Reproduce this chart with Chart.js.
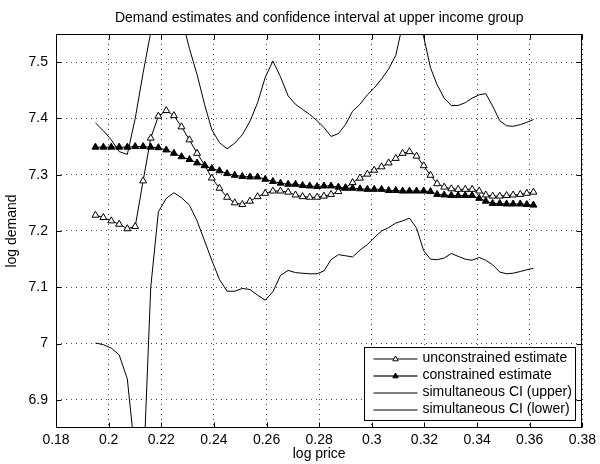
<!DOCTYPE html>
<html><head><meta charset="utf-8">
<script src="https://cdn.jsdelivr.net/npm/chart.js@4.4.1/dist/chart.umd.min.js"></script>
<style>html,body{margin:0;padding:0;background:#fff}</style>
</head><body>
<canvas id="c" width="600" height="464"></canvas>
<script>
const logPrice = [0.1950,0.1980,0.2010,0.2040,0.2071,0.2101,0.2131,0.2160,0.2189,0.2219,0.2248,0.2277,0.2307,0.2336,0.2365,0.2392,0.2421,0.2450,0.2479,0.2508,0.2537,0.2566,0.2595,0.2624,0.2653,0.2682,0.2710,0.2737,0.2764,0.2792,0.2818,0.2845,0.2873,0.2900,0.2927,0.2955,0.2983,0.3009,0.3037,0.3064,0.3091,0.3117,0.3143,0.3170,0.3197,0.3223,0.3248,0.3275,0.3302,0.3328,0.3355,0.3381,0.3408,0.3433,0.3459,0.3486,0.3512,0.3537,0.3564,0.3589,0.3614];
const unconstrained = [7.228,7.224,7.218,7.212,7.204,7.208,7.289,7.365,7.404,7.414,7.405,7.385,7.362,7.338,7.317,7.294,7.276,7.260,7.250,7.247,7.253,7.261,7.267,7.271,7.271,7.269,7.264,7.261,7.260,7.260,7.262,7.265,7.270,7.277,7.286,7.294,7.301,7.308,7.314,7.321,7.329,7.338,7.341,7.333,7.316,7.299,7.284,7.278,7.275,7.274,7.274,7.274,7.271,7.264,7.262,7.262,7.263,7.264,7.265,7.267,7.269];
const constrained = [7.349,7.349,7.349,7.349,7.349,7.350,7.350,7.349,7.348,7.344,7.338,7.332,7.327,7.321,7.316,7.311,7.307,7.302,7.299,7.297,7.296,7.296,7.292,7.288,7.285,7.283,7.283,7.281,7.280,7.279,7.280,7.280,7.278,7.276,7.276,7.275,7.274,7.274,7.274,7.272,7.272,7.271,7.271,7.271,7.271,7.270,7.265,7.264,7.263,7.263,7.263,7.263,7.258,7.253,7.249,7.249,7.248,7.248,7.248,7.247,7.246];
const ciUpper = [7.392,7.378,7.362,7.341,7.336,7.400,7.481,7.553,7.620,7.660,7.650,7.580,7.524,7.478,7.424,7.380,7.357,7.346,7.356,7.371,7.395,7.428,7.473,7.502,7.474,7.440,7.425,7.416,7.407,7.396,7.384,7.368,7.373,7.389,7.413,7.425,7.442,7.454,7.470,7.488,7.512,7.567,7.600,7.600,7.545,7.490,7.460,7.436,7.423,7.423,7.428,7.436,7.442,7.444,7.422,7.396,7.387,7.386,7.389,7.393,7.398];
const ciLower = [7.001,6.998,6.992,6.980,6.937,6.801,6.760,7.100,7.234,7.258,7.268,7.259,7.246,7.218,7.182,7.148,7.114,7.093,7.093,7.098,7.096,7.086,7.077,7.092,7.121,7.130,7.126,7.125,7.124,7.124,7.129,7.149,7.158,7.156,7.154,7.166,7.176,7.188,7.200,7.206,7.214,7.218,7.223,7.205,7.165,7.150,7.149,7.152,7.160,7.155,7.150,7.148,7.153,7.148,7.140,7.127,7.124,7.125,7.128,7.131,7.134];
const xTickValues = [0.18,0.2,0.22,0.24,0.26,0.28,0.3,0.32,0.34,0.36,0.38];
const yTickValues = [6.9,7,7.1,7.2,7.3,7.4,7.5];
const seriesLabels = ['unconstrained estimate','constrained estimate','simultaneous CI (upper)','simultaneous CI (lower)'];
const titleText = 'Demand estimates and confidence interval at upper income group';

const FONT = '"Liberation Sans", Arial, Helvetica, sans-serif';
const pts = arr => arr.map((v,i) => ({x: logPrice[i], y: v}));

const frame = {
  id: 'frame',
  afterDraw(chart) {
    const ctx = chart.ctx, a = chart.chartArea;
    const L = Math.round(a.left) + 0.5, R = Math.round(a.right) - 0.5;
    const T = Math.round(a.top) + 0.5, B = Math.round(a.bottom) - 0.5;
    ctx.save();
    ctx.strokeStyle = '#000'; ctx.lineWidth = 1; ctx.setLineDash([]);
    ctx.strokeRect(L, T, R - L, B - T);
    const tl = 5;
    ctx.beginPath();
    chart.scales.x.ticks.forEach(t => {
      const px = Math.round(chart.scales.x.getPixelForValue(t.value)) + 0.5;
      ctx.moveTo(px, B); ctx.lineTo(px, B - tl);
      ctx.moveTo(px, T); ctx.lineTo(px, T + tl);
    });
    chart.scales.y.ticks.forEach(t => {
      const py = Math.round(chart.scales.y.getPixelForValue(t.value)) + 0.5;
      ctx.moveTo(L, py); ctx.lineTo(L + tl, py);
      ctx.moveTo(R, py); ctx.lineTo(R - tl, py);
    });
    ctx.stroke();

    // legend
    const bx = Math.round(a.right - 218) + 0.5, by = Math.round(a.bottom - 81.5) + 0.5;
    const bw = 211, bh = 73;
    ctx.fillStyle = '#fff';
    ctx.fillRect(bx, by, bw, bh);
    ctx.strokeStyle = '#000';
    ctx.strokeRect(bx, by, bw, bh);
    ctx.font = '14px ' + FONT;
    ctx.textBaseline = 'middle';
    ctx.textAlign = 'left';
    chart.data.datasets.forEach((ds, i) => {
      const y = by + 11.5 + i * 17;
      ctx.beginPath();
      ctx.strokeStyle = i === 1 ? '#666' : '#000';
      ctx.lineWidth = i === 1 ? 2 : 1;
      ctx.moveTo(bx + 9, y); ctx.lineTo(bx + 53, y);
      ctx.stroke();
      const mx = bx + 31;
      if (i < 2) {
        ctx.beginPath();
        const r = 3;
        ctx.moveTo(mx, y - r);
        ctx.lineTo(mx + r * 0.9, y + r * 0.6);
        ctx.lineTo(mx - r * 0.9, y + r * 0.6);
        ctx.closePath();
        ctx.fillStyle = i === 0 ? '#fff' : '#000';
        ctx.fill();
        ctx.strokeStyle = '#000'; ctx.lineWidth = 1;
        ctx.stroke();
      }
      ctx.fillStyle = '#000';
      ctx.fillText(ds.label, bx + 58, y - 1);
    });
    ctx.restore();
  }
};

const base = { borderColor: '#000', borderWidth: 1, tension: 0, fill: false, pointBorderColor: '#000', pointBorderWidth: 1, pointHoverRadius: 0 };

new Chart(document.getElementById('c'), {
  type: 'line',
  data: {
    datasets: [
      Object.assign({}, base, { label: seriesLabels[0], data: pts(unconstrained), pointStyle: 'triangle', pointRadius: 4, pointBackgroundColor: '#fff', order: 1 }),
      Object.assign({}, base, { label: seriesLabels[1], data: pts(constrained), pointStyle: 'triangle', pointRadius: 4, pointBackgroundColor: '#000', order: 0 }),
      Object.assign({}, base, { label: seriesLabels[2], data: pts(ciUpper), pointRadius: 0, order: 2 }),
      Object.assign({}, base, { label: seriesLabels[3], data: pts(ciLower), pointRadius: 0, order: 3 })
    ]
  },
  options: {
    responsive: false,
    animation: false,
    devicePixelRatio: 1,
    events: [],
    layout: { padding: { left: 0, right: 14, top: 0, bottom: 0 } },
    plugins: {
      legend: { display: false },
      tooltip: { enabled: false },
      title: { display: true, text: titleText, color: '#000', fullSize: false,
        font: { family: FONT, size: 14, weight: 'normal' }, padding: { top: 10, bottom: 7.2 } }
    },
    scales: {
      x: {
        type: 'linear', min: 0.18, max: 0.38,
        afterBuildTicks: s => { s.ticks = xTickValues.map(v => ({ value: v })); },
        afterFit: s => { s.height = 36; },
        ticks: { color: '#000', font: { family: FONT, size: 14 }, padding: 4, maxRotation: 0, autoSkip: false, callback: v => String(v) },
        grid: { color: '#444', lineWidth: 1, drawTicks: false },
        border: { display: false, dash: [1, 4] },
        title: { display: true, text: 'log price', color: '#000', font: { family: FONT, size: 14 }, padding: { top: 0, bottom: 1 } }
      },
      y: {
        type: 'linear', min: 6.85, max: 7.55,
        afterBuildTicks: s => { s.ticks = yTickValues.map(v => ({ value: v })); },
        afterFit: s => { s.width = 56; },
        ticks: { color: '#000', font: { family: FONT, size: 14 }, padding: 8, autoSkip: false, callback: v => String(v) },
        grid: { color: '#444', lineWidth: 1, drawTicks: false },
        border: { display: false, dash: [1, 4] },
        title: { display: true, text: 'log demand', color: '#000', font: { family: FONT, size: 14 }, padding: { top: 4, bottom: 0 } }
      }
    }
  },
  plugins: [frame]
});
</script>
</body></html>
